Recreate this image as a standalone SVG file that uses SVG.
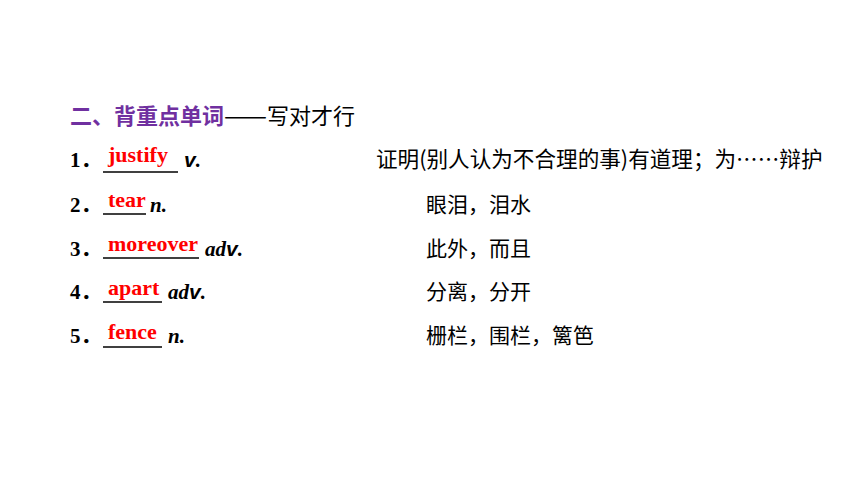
<svg xmlns="http://www.w3.org/2000/svg" width="860" height="484" viewBox="0 0 860 484">
<style>
.cn{font-family:"Noto Sans CJK SC","Noto Sans CJK JP",sans-serif;font-size:21px;fill:#000}
.ti{font-family:"Noto Sans CJK SC",sans-serif;font-size:22px;font-weight:bold;fill:#7030a0}
.td{font-family:"Noto Sans CJK SC",sans-serif;font-size:22px;fill:#000}
.num{font-family:"Liberation Serif","Noto Sans CJK SC",serif;font-size:21px;font-weight:bold;fill:#000}
.ans{font-family:"Liberation Serif",serif;font-size:22px;font-weight:bold;fill:#ff0000}
.pos{font-family:"Liberation Serif",serif;font-size:21px;font-weight:bold;font-style:italic;fill:#000}
.v{font-family:"Liberation Sans",sans-serif;font-size:21px;font-weight:bold;font-style:italic}
.ul{stroke:#000;stroke-width:1.3}
</style>
<rect width="860" height="484" fill="#fff"/>
<g id="title">
<text x="70" y="124"><tspan class="ti">二、背重点单词</tspan><tspan class="td" textLength="43" lengthAdjust="spacingAndGlyphs">——</tspan><tspan class="td">写对才行</tspan></text>
</g>
<g id="item1">
<text class="num" x="70" y="167">1．</text>
<line class="ul" x1="103" y1="172" x2="178" y2="172"/>
<text class="ans" x="108" y="162">justify</text>
<text class="pos" x="184" y="167"><tspan class="v">v</tspan>.</text>
<text class="cn" x="376" y="167" style="font-size:21.6px">证明(别人认为不合理的事)有道理；为……辩护</text>
</g>
<g id="item2">
<text class="num" x="70" y="212">2．</text>
<line class="ul" x1="103" y1="214" x2="146" y2="214"/>
<text class="ans" x="108" y="207">tear</text>
<text class="pos" x="150" y="212">n.</text>
<text class="cn" x="426" y="212">眼泪，泪水</text>
</g>
<g id="item3">
<text class="num" x="70" y="256">3．</text>
<line class="ul" x1="103" y1="258" x2="199" y2="258"/>
<text class="ans" x="108" y="251">moreover</text>
<text class="pos" x="205" y="256">ad<tspan class="v">v</tspan>.</text>
<text class="cn" x="426" y="256">此外，而且</text>
</g>
<g id="item4">
<text class="num" x="70" y="299">4．</text>
<line class="ul" x1="103" y1="302" x2="162" y2="302"/>
<text class="ans" x="108" y="295">apart</text>
<text class="pos" x="168" y="299">ad<tspan class="v">v</tspan>.</text>
<text class="cn" x="426" y="299">分离，分开</text>
</g>
<g id="item5">
<text class="num" x="70" y="343">5．</text>
<line class="ul" x1="103" y1="347" x2="162" y2="347"/>
<text class="ans" x="108" y="339">fence</text>
<text class="pos" x="168" y="343">n.</text>
<text class="cn" x="426" y="343">栅栏，围栏，篱笆</text>
</g>
</svg>
